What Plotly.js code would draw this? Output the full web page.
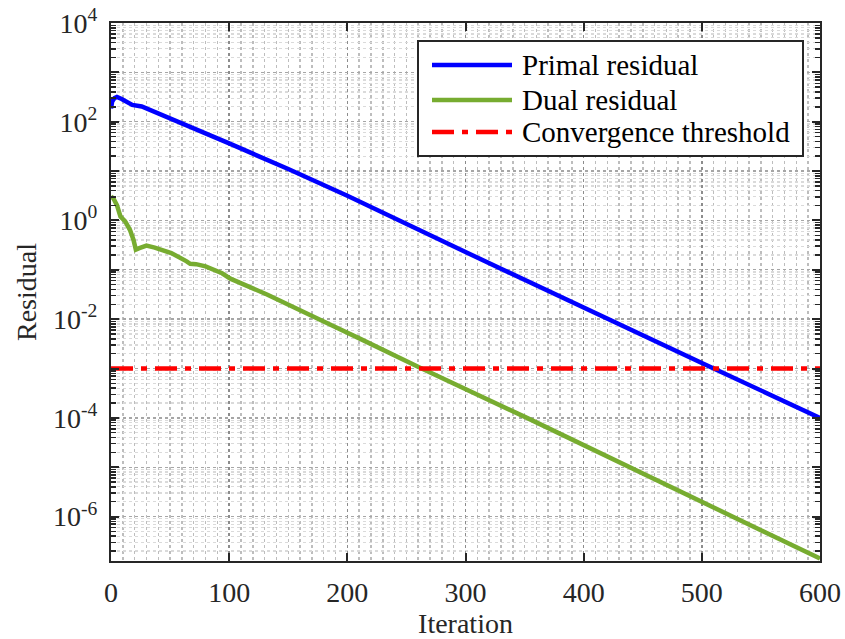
<!DOCTYPE html>
<html>
<head>
<meta charset="utf-8">
<script src="https://cdn.plot.ly/plotly-3.0.1.min.js"></script>
<style>html,body{margin:0;padding:0;background:#fff;}#chart{width:845px;height:639px;}</style>
</head>
<body>
<div id="chart"></div>
<script>
// ---- data ----
const primalIter = [0, 1, 3, 5, 9, 14, 18, 26, 37, 51, 65, 80, 100, 150, 200, 300, 400, 500, 600];
const primalResidual = [186, 257, 302, 316, 288, 251, 219, 204, 158, 117, 85.1, 58.9, 36.3, 11.0, 3.16, 0.229, 0.0170, 1.29e-3, 1.0e-4];

const dualIter = [0, 2, 5, 8, 12, 16, 19, 21, 24, 30, 37, 51, 64, 67, 72, 80, 94, 101, 132, 160, 188, 211, 262, 352, 450, 600];
const dualResidual = [3.02, 2.82, 2.04, 1.20, 0.955, 0.646, 0.407, 0.257, 0.275, 0.309, 0.282, 0.219, 0.148, 0.132, 0.130, 0.117, 0.0851, 0.0661, 0.0316, 0.0148, 7.24e-3, 3.98e-3, 1.02e-3, 1.0e-4, 7.41e-6, 1.41e-7];

const thresholdIter = [0, 600];
const thresholdValue = [1e-3, 1e-3];

const seriesNames = ['Primal residual', 'Dual residual', 'Convergence threshold'];
const yTickVals = [1e-6, 1e-5, 1e-4, 1e-3, 1e-2, 1e-1, 1, 10, 100, 1000, 1e4];
const yTickText = ['10<sup>-6</sup>', '', '10<sup>-4</sup>', '', '10<sup>-2</sup>', '', '10<sup>0</sup>', '', '10<sup>2</sup>', '', '10<sup>4</sup>'];
const xTickVals = [0, 100, 200, 300, 400, 500, 600];
const xTickText = ['0', '100', '200', '300', '400', '500', '600'];
const xLabel = 'Iteration';
const yLabel = 'Residual';

// ---- chart ----
const serif = 'Liberation Serif, Times New Roman, serif';
const axisColor = '#262626';
const seriesColors = ['#0000FF', '#77AC30', '#FF0000'];
const seriesDash = ['solid', 'solid', '22px,8px,6px,8px'];
const lineW = 4.5;

const traces = [
  {x: primalIter, y: primalResidual, name: seriesNames[0], mode: 'lines', type: 'scatter',
   line: {color: seriesColors[0], width: lineW}},
  {x: dualIter, y: dualResidual, name: seriesNames[1], mode: 'lines', type: 'scatter',
   line: {color: seriesColors[1], width: lineW}},
  {x: thresholdIter, y: thresholdValue, name: seriesNames[2], mode: 'lines', type: 'scatter',
   line: {color: seriesColors[2], width: lineW, dash: seriesDash[2]}}
];

// legend box drawn in paper coordinates (MATLAB-style boxed legend)
const M = {l: 111, r: 25, t: 23, b: 78};
const W = 845, H = 639;
const pw = W - M.l - M.r, ph = H - M.t - M.b;
const px = v => (v - M.l) / pw;
const py = v => (H - M.b - v) / ph;
const legRows = [65, 100, 132];
const shapes = [{
  type: 'rect', xref: 'paper', yref: 'paper',
  x0: px(418), x1: px(803), y0: py(156), y1: py(41),
  fillcolor: '#ffffff', line: {color: axisColor, width: 2}, layer: 'above'
}];
const annotations = [];
seriesNames.forEach((nm, i) => {
  shapes.push({type: 'line', xref: 'paper', yref: 'paper',
    x0: px(432), x1: px(512), y0: py(legRows[i]), y1: py(legRows[i]),
    line: {color: seriesColors[i], width: lineW, dash: seriesDash[i]}, layer: 'above'});
  annotations.push({xref: 'paper', yref: 'paper', x: px(520), y: py(legRows[i]),
    xanchor: 'left', yanchor: 'middle', showarrow: false, text: nm,
    font: {family: serif, size: 29, color: '#000000'}});
});

const layout = {
  width: W, height: H,
  margin: M,
  paper_bgcolor: '#ffffff', plot_bgcolor: '#ffffff',
  font: {family: serif, size: 28, color: axisColor},
  showlegend: false,
  shapes: shapes,
  annotations: annotations,
  xaxis: {
    range: [0, 600], tickmode: 'array', tickvals: xTickVals, ticktext: xTickText,
    ticks: 'inside', ticklen: 8, tickwidth: 2, tickcolor: axisColor,
    showline: true, linecolor: axisColor, linewidth: 2, mirror: 'ticks',
    showgrid: true, gridcolor: '#8c8c8c', gridwidth: 1.5, griddash: 'dot',
    zeroline: false, ticklabelstandoff: 5,
    tickfont: {family: serif, size: 28, color: axisColor},
    minor: {dtick: 10, showgrid: true, gridcolor: '#bdbdbd', gridwidth: 1.5, griddash: 'dot', ticks: ''},
    title: {text: xLabel, font: {family: serif, size: 28, color: axisColor}, standoff: 10}
  },
  yaxis: {
    type: 'log', range: [-6.9, 4], tickmode: 'array', tickvals: yTickVals, ticktext: yTickText,
    ticks: 'inside', ticklen: 8, tickwidth: 2, tickcolor: axisColor,
    showline: true, linecolor: axisColor, linewidth: 2, mirror: 'ticks',
    showgrid: true, gridcolor: '#a6a6a6', gridwidth: 1.3, griddash: 'dot',
    zeroline: false, ticklabelstandoff: 6,
    tickfont: {family: serif, size: 28, color: axisColor},
    minor: {dtick: 'D1', showgrid: true, gridcolor: '#dadada', gridwidth: 1.2, griddash: 'dot',
            ticks: 'inside', ticklen: 5, tickwidth: 1.5, tickcolor: axisColor},
    title: {text: yLabel, font: {family: serif, size: 28, color: axisColor}, standoff: 8}
  }
};

Plotly.newPlot('chart', traces, layout, {staticPlot: true, displayModeBar: false});
</script>
</body>
</html>
